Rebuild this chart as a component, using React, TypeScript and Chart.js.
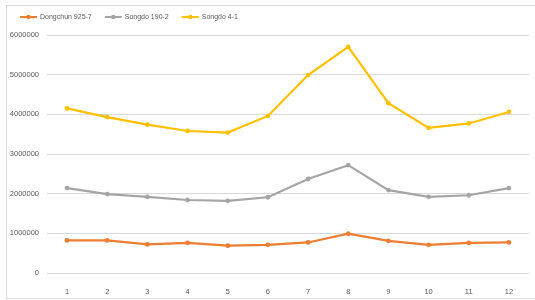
import React, { useEffect, useRef } from "react";
import { Chart, registerables } from "chart.js";

Chart.register(...registerables);

const categories = ["1", "2", "3", "4", "5", "6", "7", "8", "9", "10", "11", "12"];
const dongchun = [820000, 820000, 720000, 760000, 690000, 710000, 770000, 990000, 810000, 710000, 760000, 770000];
const songdo190 = [2140000, 1990000, 1920000, 1840000, 1820000, 1910000, 2370000, 2720000, 2090000, 1920000, 1960000, 2140000];
const songdo41 = [4150000, 3930000, 3740000, 3580000, 3540000, 3960000, 4990000, 5700000, 4280000, 3660000, 3770000, 4060000];
const seriesNames = ["Dongchun 925-7", "Songdo 190-2", "Songdo 4-1"];
const seriesColors = ["#ED7D31", "#A5A5A5", "#FFC000"];

const FONT = "'Liberation Sans', Arial, sans-serif";

const legendPlugin = {
  id: "excelLegend",
  afterDraw(chart: any) {
    const ctx = chart.ctx;
    ctx.save();
    ctx.font = `7px ${FONT}`;
    ctx.textBaseline = "middle";
    let x = 20;
    const y = 17;
    chart.data.datasets.forEach((ds: any) => {
      ctx.strokeStyle = ds.borderColor;
      ctx.lineWidth = 2;
      ctx.beginPath();
      ctx.moveTo(x, y);
      ctx.lineTo(x + 17, y);
      ctx.stroke();
      ctx.fillStyle = ds.borderColor;
      ctx.beginPath();
      ctx.arc(x + 8.5, y, 2.2, 0, Math.PI * 2);
      ctx.fill();
      ctx.fillStyle = "#595959";
      ctx.fillText(ds.label, x + 20, y);
      x += 20 + ctx.measureText(ds.label).width + 13;
    });
    ctx.restore();
  },
};

export default function App() {
  const ref = useRef<HTMLCanvasElement | null>(null);
  useEffect(() => {
    document.body.style.margin = "0";
    const datasets = [dongchun, songdo190, songdo41].map((d, i) => ({
      label: seriesNames[i],
      data: d,
      borderColor: seriesColors[i],
      backgroundColor: seriesColors[i],
      borderWidth: 2.2,
      pointRadius: 2.4,
      pointBorderWidth: 0,
      tension: 0,
    }));
    const chart = new Chart(ref.current as HTMLCanvasElement, {
      type: "line",
      data: { labels: categories, datasets },
      options: {
        animation: false,
        responsive: false,
        layout: { padding: { top: 35, right: 6, left: 0, bottom: 0 } },
        plugins: { legend: { display: false }, tooltip: { enabled: false } },
        scales: {
          x: {
            offset: true,
            grid: { display: false },
            border: { display: false },
            ticks: { color: "#595959", font: { family: FONT, size: 7.5 }, padding: 6, maxRotation: 0 },
            afterFit: (axis: any) => {
              axis.height = 27;
            },
          },
          y: {
            min: 0,
            max: 6000000,
            grid: { color: "#D9D9D9", lineWidth: 1, drawTicks: false },
            border: { display: false },
            ticks: {
              stepSize: 1000000,
              color: "#595959",
              font: { family: FONT, size: 7.5 },
              padding: 8,
              callback: (v: any) => String(v),
            },
            afterFit: (axis: any) => {
              axis.width = 47;
            },
          },
        },
      },
      plugins: [legendPlugin],
    });
    return () => chart.destroy();
  }, []);
  return (
    <div style={{ position: "relative", width: 535, height: 300 }}>
      <div
        style={{
          position: "absolute",
          left: 6,
          top: 5,
          width: 540,
          height: 294,
          border: "1px solid #D9D9D9",
          boxSizing: "border-box",
        }}
      />
      <canvas ref={ref} width={535} height={300} style={{ position: "absolute", left: 0, top: 0 }} />
    </div>
  );
}
